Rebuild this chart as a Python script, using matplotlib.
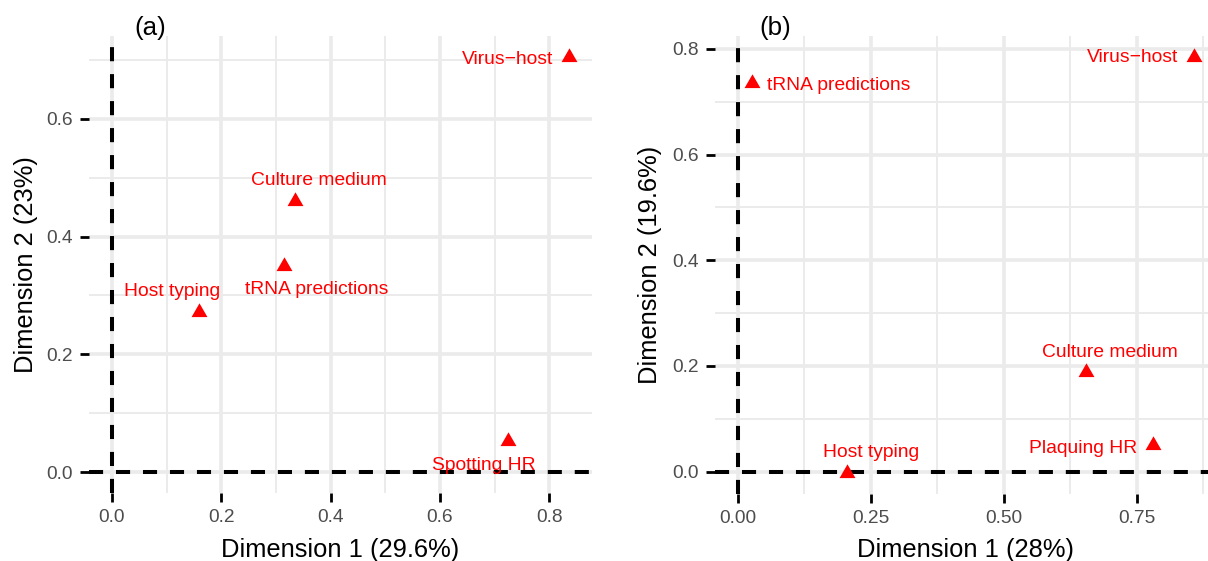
import matplotlib
matplotlib.use("Agg")
import matplotlib.pyplot as plt
from matplotlib.ticker import FixedLocator, FormatStrFormatter
import numpy as np

plt.rcParams['font.family'] = ['Liberation Sans', 'DejaVu Sans']

# ---------------- data ----------------
a_names = ["Virus−host", "Culture medium", "tRNA predictions", "Host typing", "Spotting HR"]
a_x = [0.836, 0.334, 0.314, 0.160, 0.724]
a_y = [0.705, 0.461, 0.350, 0.272, 0.053]

b_names = ["Virus−host", "tRNA predictions", "Culture medium", "Plaquing HR", "Host typing"]
b_x = [0.857, 0.027, 0.655, 0.780, 0.205]
b_y = [0.785, 0.735, 0.189, 0.051, -0.003]

# label anchor positions (data coords, text baseline) and alignment
a_lab_x = [0.807, 0.378, 0.374, 0.110, 0.680]
a_lab_y = [0.693, 0.487, 0.302, 0.299, 0.004]
a_lab_ha = ["right", "center", "center", "center", "center"]

b_lab_x = [0.8275, 0.0543, 0.700, 0.7505, 0.250]
b_lab_y = [0.775, 0.7215, 0.217, 0.036, 0.028]
b_lab_ha = ["right", "left", "center", "right", "center"]

a_xlabel = "Dimension 1 (29.6%)"
a_ylabel = "Dimension 2 (23%)"
b_xlabel = "Dimension 1 (28%)"
b_ylabel = "Dimension 2 (19.6%)"

a_xmajor = [0.0, 0.2, 0.4, 0.6, 0.8]
a_xminor = [0.1, 0.3, 0.5, 0.7]
a_ymajor = [0.0, 0.2, 0.4, 0.6]
a_yminor = [0.1, 0.3, 0.5, 0.7]
b_xmajor = [0.0, 0.25, 0.5, 0.75]
b_xminor = [0.125, 0.375, 0.625, 0.875]
b_ymajor = [0.0, 0.2, 0.4, 0.6, 0.8]
b_yminor = [0.1, 0.3, 0.5, 0.7]

# ---------------- figure ----------------
W, H = 1208, 561
fig = plt.figure(figsize=(W / 100, H / 100), dpi=100)

def px_axes(l, r, t, b):
    return fig.add_axes([l / W, (H - b) / H, (r - l) / W, (b - t) / H])

ax_a = px_axes(89, 592, 36, 493)
ax_b = px_axes(715, 1216.5, 36, 494)

tri = [(0, 1), (-0.866, -0.5), (0.866, -0.5)]
grid_col = "#EBEBEB"
marker_area = 175

def expand(vals):
    lo = min(min(vals), 0.0)
    hi = max(max(vals), 0.0)
    d = (hi - lo) * 0.05
    return lo - d, hi + d

def style(ax, xs, ys, xmaj, xmin, ymaj, ymin, xfmt, yfmt):
    ax.set_xlim(*expand(xs))
    ax.set_ylim(*expand(ys))
    for s in ax.spines.values():
        s.set_visible(False)
    ax.xaxis.set_major_locator(FixedLocator(xmaj))
    ax.xaxis.set_minor_locator(FixedLocator(xmin))
    ax.yaxis.set_major_locator(FixedLocator(ymaj))
    ax.yaxis.set_minor_locator(FixedLocator(ymin))
    ax.xaxis.set_major_formatter(FormatStrFormatter(xfmt))
    ax.yaxis.set_major_formatter(FormatStrFormatter(yfmt))
    ax.grid(which="major", color=grid_col, lw=2.6, zorder=0)
    ax.grid(which="minor", color=grid_col, lw=1.4, zorder=0)
    ax.set_axisbelow(True)
    ax.tick_params(which="major", length=6.5, width=2.0, color="black",
                   labelsize=13.8, labelcolor="#4D4D4D")
    ax.tick_params(axis="x", which="major", pad=5)
    ax.tick_params(axis="y", which="major", pad=5)
    ax.tick_params(which="minor", length=0)
    ax.axhline(0, color="black", lw=2.9, dashes=(3.5, 3.2), zorder=2)
    ax.axvline(0, color="black", lw=2.9, dashes=(3.5, 3.2), zorder=2)

style(ax_a, a_x, a_y, a_xmajor, a_xminor, a_ymajor, a_yminor, "%.1f", "%.1f")
style(ax_b, b_x, b_y, b_xmajor, b_xminor, b_ymajor, b_yminor, "%.2f", "%.1f")

ax_a.scatter(a_x, a_y, marker=tri, s=marker_area, color="red", zorder=3, lw=0)
ax_b.scatter(b_x, b_y, marker=tri, s=marker_area, color="red", zorder=3, lw=0)

for n, x, y, ha in zip(a_names, a_lab_x, a_lab_y, a_lab_ha):
    ax_a.text(x, y, n, color="red", fontsize=13.9, ha=ha, va="baseline", zorder=4)
for n, x, y, ha in zip(b_names, b_lab_x, b_lab_y, b_lab_ha):
    ax_b.text(x, y, n, color="red", fontsize=13.9, ha=ha, va="baseline", zorder=4)

# axis titles
fig.text(340.5 / W, 1 - 549.5 / H, a_xlabel, ha="center", va="center", fontsize=18.4)
fig.text(965.7 / W, 1 - 549.5 / H, b_xlabel, ha="center", va="center", fontsize=18.4)
fig.text(26 / W, 1 - 264.5 / H, a_ylabel, ha="center", va="center", rotation=90, fontsize=18.4)
fig.text(649.5 / W, 1 - 265 / H, b_ylabel, ha="center", va="center", rotation=90, fontsize=18.4)

# panel tags
fig.text(134.5 / W, 1 - 28 / H, "(a)", ha="left", va="center", fontsize=18.7)
fig.text(759 / W, 1 - 28 / H, "(b)", ha="left", va="center", fontsize=18.7)

fig.savefig("out.png", dpi=100)
